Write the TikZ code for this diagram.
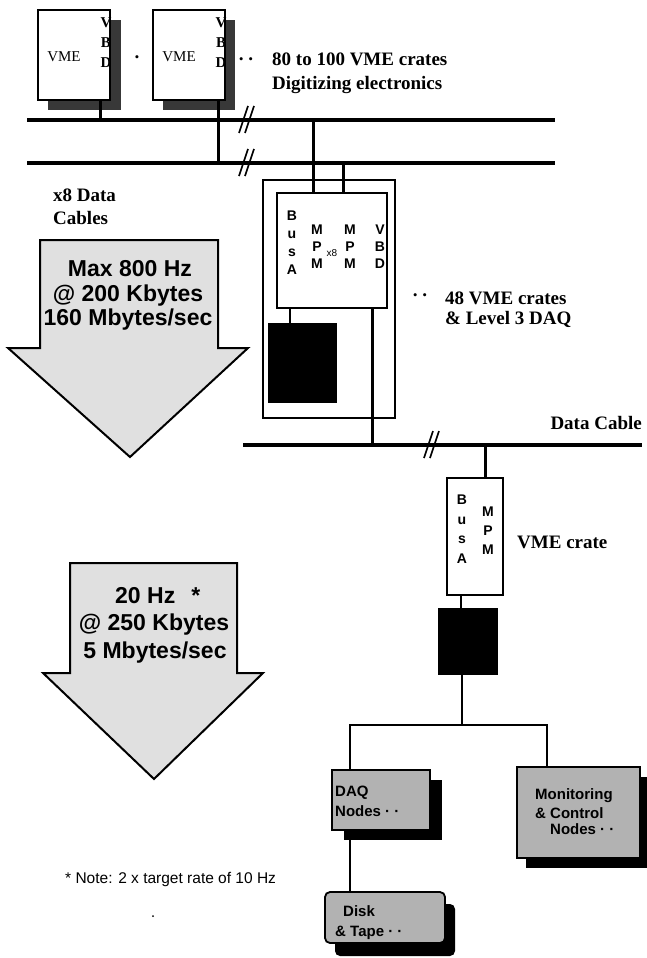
\documentclass[tikz,border=0pt]{standalone}
\usepackage{fontspec}
\setmainfont{Liberation Serif}
\newfontfamily\hv{Liberation Sans}
\begin{document}
\begin{tikzpicture}[x=1pt,y=-1pt,
  bus/.style={line width=3.5pt},
  thickw/.style={line width=3pt},
  thinw/.style={line width=1.6pt},
  crate/.style={draw,line width=1.8pt,fill=white,minimum width=72pt,minimum height=90pt,inner sep=0pt},
  cshadow/.style={fill=black!78},
  nshadow/.style={fill=black},
  lbl/.style={inner sep=0pt,font=\fontsize{19}{23}\selectfont\bfseries},
  arrowtxt/.style={inner sep=0pt,font=\hv\bfseries\fontsize{23}{25}\selectfont},
  letters/.style={inner sep=0pt,align=center,font=\hv\bfseries\fontsize{14}{18}\selectfont},
  vbdletters/.style={inner sep=0pt,align=center,font=\bfseries\fontsize{15}{20}\selectfont},
  graybox/.style={draw,line width=1.8pt,fill=black!30,inner sep=0pt},
  plainbox/.style={draw,fill=white,inner sep=0pt},
  blackbox/.style={fill=black,inner sep=0pt},
  boxtxt/.style={inner sep=0pt,font=\hv\bfseries\fontsize{15}{18}\selectfont},
  brkmark/.style={line width=1.6pt},
  bigarrow/.style={draw,line width=2pt,fill=black!12,line join=miter}
]
\useasboundingbox (0,0) rectangle (646,958);

% ---------- top VME crates ----------
\fill[cshadow] (48,20) rectangle (121,110);
\node[crate] (c1) at (74,55) {};
\node[inner sep=0pt,font=\fontsize{15}{15}\selectfont] (v1) at (64,57) {VME};
\node[vbdletters] (vbd1) at (106,43) {V\\B\\D};
\fill[cshadow] (163,20) rectangle (235,110);
\node[crate] (c2) at (189,55) {};
\node[inner sep=0pt,font=\fontsize{15}{15}\selectfont] (v2) at (179,57) {VME};
\node[vbdletters] (vbd2) at (221,43) {V\\B\\D};
\node[lbl] (dot0) at (137,60) {·};
\node[lbl] (dots1) at (246,62) {·\,·};
\node[lbl,anchor=base west] (t80) at (272,66) {80 to 100 VME crates};
\node[lbl,anchor=base west] (tdig) at (272,89) {Digitizing electronics};

% ---------- buses ----------
\coordinate (b1w) at (27,120); \coordinate (b1e) at (555,120);
\coordinate (b2w) at (27,163); \coordinate (b2e) at (555,163);
\draw[bus] (b1w) -- (b1e);
\draw[bus] (b2w) -- (b2e);
\draw[thickw] ([xshift=26pt]c1.south) -- ([xshift=26pt]c1.south |- b1w);
\draw[thickw] ([xshift=29pt]c2.south) -- ([xshift=29pt]c2.south |- b2w);
\coordinate (br1) at (246,120); \coordinate (br2) at (246,163);
\draw[brkmark,shift={(br1)}] (-7,13) -- (2,-14) (-1,13) -- (8,-14);
\draw[brkmark,shift={(br2)}] (-7,13) -- (2,-14) (-1,13) -- (8,-14);

\node[lbl,anchor=base west] (x8d) at (53,201) {x8 Data};
\node[lbl,anchor=base west] (cab) at (53,224) {Cables};

% ---------- 48 VME crates ----------
\node[plainbox,line width=1.5pt,minimum width=132pt,minimum height=238pt] (crate48) at (329,299) {};
\node[plainbox,line width=2pt,minimum width=110pt,minimum height=115pt] (inner) at (332,250.5) {};
\node[blackbox,minimum width=69pt,minimum height=80pt] (blk1) at (302.5,363) {};
\coordinate (t1) at (313,120); \coordinate (t2) at (343,163);
\draw[thickw] (t1) -- (t1 |- inner.north);
\draw[thickw] (t2) -- (t2 |- inner.north);
\node[letters] (busa1) at (292,243) {B\\u\\s\\A};
\node[letters,font=\hv\bfseries\fontsize{14}{17}\selectfont] (mpm1) at (317,247) {M\\P\\M};
\node[inner sep=0pt,font=\hv\fontsize{10}{10}\selectfont] (x8) at (332,253) {x8};
\node[letters,font=\hv\bfseries\fontsize{14}{17}\selectfont] (mpm2) at (350,247) {M\\P\\M};
\node[letters,font=\hv\bfseries\fontsize{14}{17}\selectfont] (vbd3) at (380,247) {V\\B\\D};
\draw[thinw] ([xshift=-12.5pt]blk1.north) -- ([xshift=-12.5pt]blk1.north |- inner.south);
\node[lbl] (dots2) at (420,298) {·\,·};
\node[lbl,anchor=base west] (t48) at (445,304) {48 VME crates};
\node[lbl,anchor=base west] (tl3) at (445,324) {\& Level 3 DAQ};

% ---------- data cable ----------
\coordinate (b3w) at (243,445); \coordinate (b3e) at (642,445);
\draw[bus] (b3w) -- (b3e);
\coordinate (vbdx) at (372,308);
\draw[thickw] (vbdx) -- (vbdx |- b3w);
\coordinate (br3) at (431,445);
\draw[brkmark,shift={(br3)}] (-7,13) -- (2,-14) (-1,13) -- (8,-14);
\node[lbl,anchor=base east] (tdc) at (642,429) {Data Cable};

% ---------- VME crate ----------
\node[plainbox,line width=2pt,minimum width=56pt,minimum height=117pt] (vmec) at (475,536.5) {};
\coordinate (d1) at (485,445);
\draw[thickw] (d1) -- (d1 |- vmec.north);
\node[letters,font=\hv\bfseries\fontsize{14}{19.5}\selectfont] (busa2) at (462,529) {B\\u\\s\\A};
\node[letters,font=\hv\bfseries\fontsize{14}{19}\selectfont] (mpm3) at (488,531) {M\\P\\M};
\node[lbl,anchor=base west] (tvc) at (517,548) {VME crate};
\node[blackbox,minimum width=60pt,minimum height=67pt] (blk2) at (468,641.5) {};
\draw[thinw] ([xshift=-7pt]blk2.north) -- ([xshift=-7pt]blk2.north |- vmec.south);
\coordinate (split) at (462,725);
\draw[thinw] ([xshift=-6pt]blk2.south) -- (split);

% ---------- nodes ----------
\fill[nshadow] (344,780) rectangle (442,840);
\node[graybox,minimum width=98pt,minimum height=60pt] (daq) at (381,800) {};
\fill[nshadow] (526,777) rectangle (648,868);
\node[graybox,minimum width=123pt,minimum height=91pt] (mon) at (578.5,812.5) {};
\fill[nshadow,rounded corners=5pt] (335,904) rectangle (455,956);
\node[graybox,rounded corners=5pt,minimum width=120pt,minimum height=51pt] (disk) at (385,917.5) {};
\coordinate (s1) at (350,725); \coordinate (s2) at (547,725);
\draw[thinw] (s1 |- daq.north) -- (s1) -- (s2) -- (s2 |- mon.north);
\draw[thinw] (s1 |- daq.south) -- (s1 |- disk.north);
\node[boxtxt,anchor=base west] (tdaq) at (335,796) {DAQ};
\node[boxtxt,anchor=base west] (tnod1) at (335,816) {Nodes · ·};
\node[boxtxt,anchor=base west] (tmon) at (535,799) {Monitoring};
\node[boxtxt,anchor=base west] (tctl) at (535,818) {\& Control};
\node[boxtxt,anchor=base west] (tnod2) at (550,834) {Nodes · ·};
\node[boxtxt,anchor=base west] (tdisk) at (343,916) {Disk};
\node[boxtxt,anchor=base west] (ttape) at (335,936) {\& Tape · ·};

% ---------- big arrows ----------
\draw[bigarrow] (40,240) -- (218,240) -- (218,348) -- (248,348) -- (130,457) -- (8,348) -- (40,348) -- cycle;
\node[arrowtxt,anchor=base] (a1l1) at (130,276) {Max 800 Hz};
\node[arrowtxt,anchor=base] (a1l2) at (128,301) {@ 200 Kbytes};
\node[arrowtxt,anchor=base] (a1l3) at (128,325) {160 Mbytes/sec};
\draw[bigarrow] (70,563) -- (237,563) -- (237,673) -- (263,673) -- (154,779) -- (43,673) -- (70,673) -- cycle;
\node[arrowtxt,anchor=base west] (a2l1) at (115,603) {20 Hz\hspace{16pt}*};
\node[arrowtxt,anchor=base] (a2l2) at (154,630) {@ 250 Kbytes};
\node[arrowtxt,anchor=base] (a2l3) at (155,658) {5 Mbytes/sec};

\node[inner sep=0pt,anchor=base west,font=\hv\fontsize{15.5}{18}\selectfont] (note) at (65,883) {* Note: 2 x target rate of 10 Hz};
\fill (153,916) circle (1pt);
\end{tikzpicture}
\end{document}
